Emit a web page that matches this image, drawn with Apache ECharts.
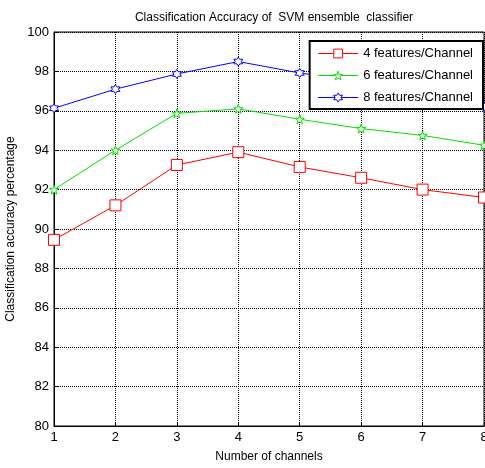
<!DOCTYPE html>
<html>
<head>
<meta charset="utf-8">
<script src="https://cdn.jsdelivr.net/npm/echarts@6/dist/echarts.min.js"></script>
<style>
  *{margin:0;padding:0;}
  body{background:#fff;}
</style>
</head>
<body>
<div id="chart" style="width:485px;height:468px;"></div>
<script>
// data
var channels = [1, 2, 3, 4, 5, 6, 7, 8];
var feat4 = [89.45, 91.2, 93.25, 93.9, 93.15, 92.6, 92.0, 91.6];
var feat6 = [92.0, 94.0, 95.87, 96.1, 95.57, 95.1, 94.75, 94.25];
var feat8 = [96.13, 97.1, 97.87, 98.5, 97.92, 97.5, 96.8, 96.2];
var seriesNames = ['4 features/Channel', '6 features/Channel', '8 features/Channel'];

var starPath = 'path://M0,-10 L2.35,-3.24 L9.51,-3.09 L3.8,1.24 L5.88,8.09 L0,4 L-5.88,8.09 L-3.8,1.24 L-9.51,-3.09 L-2.35,-3.24 Z';
var hexPath = 'path://M0,-10 L2.89,-5 L8.66,-5 L5.77,0 L8.66,5 L2.89,5 L0,10 L-2.89,5 L-8.66,5 L-5.77,0 L-8.66,-5 L-2.89,-5 Z';

function pairs(vals) {
  return channels.map(function (c, i) { return [c, vals[i]]; });
}

function makeSeries(name, vals, color, symbol, size) {
  return {
    name: name,
    type: 'line',
    data: pairs(vals),
    color: color,
    symbol: symbol,
    symbolSize: size,
    lineStyle: { color: color, width: 1 },
    itemStyle: { color: '#fff', borderColor: color, borderWidth: 1 },
    emphasis: { disabled: true },
    z: 3
  };
}

var myChart = echarts.init(document.getElementById('chart'));
myChart.setOption({
  animation: false,
  textStyle: { fontFamily: 'Liberation Sans, Arial, sans-serif' },
  title: {
    text: 'Classification Accuracy of  SVM ensemble  classifier',
    left: 269,
    textAlign: 'center',
    top: 7,
    textStyle: { fontSize: 12, fontWeight: 'normal', color: '#000' }
  },
  grid: {
    left: 54, right: 1, top: 32, bottom: 42,
    containLabel: false,
    outerBoundsMode: 'none',
    show: true, borderColor: '#000', borderWidth: 1
  },
  legend: {
    orient: 'vertical',
    right: 2,
    top: 41,
    backgroundColor: '#fff',
    borderColor: '#000',
    borderWidth: 2,
    borderRadius: 0,
    padding: [6, 10, 5, 8],
    itemGap: 9,
    itemWidth: 40,
    itemHeight: 11,
    lineStyle: { width: 1 },
    itemStyle: { borderWidth: 1 },
    textStyle: { fontSize: 13, color: '#000' },
    data: seriesNames
  },
  xAxis: {
    type: 'value',
    min: 1, max: 8, interval: 1,
    name: 'Number of channels',
    nameLocation: 'middle',
    nameGap: 25,
    nameTextStyle: { fontSize: 12, color: '#000' },
    axisLine: { show: true, lineStyle: { color: '#000', width: 1 } },
    axisTick: { show: true, inside: true, length: 4, lineStyle: { color: '#000' } },
    axisLabel: { fontSize: 13, color: '#000', margin: 5, showMaxLabel: true },
    splitLine: { show: true, lineStyle: { color: '#000', type: [1, 1], width: 1 } }
  },
  yAxis: {
    type: 'value',
    min: 80, max: 100, interval: 2,
    name: 'Classification accuracy percentage',
    nameLocation: 'middle',
    nameGap: 31,
    nameTextStyle: { fontSize: 12, color: '#000' },
    axisLine: { show: true, lineStyle: { color: '#000', width: 1 } },
    axisTick: { show: true, inside: true, length: 4, lineStyle: { color: '#000' } },
    axisLabel: { fontSize: 13, color: '#000', margin: 5 },
    splitLine: { show: true, lineStyle: { color: '#000', type: [1, 1], width: 1 } }
  },
  series: [
    makeSeries(seriesNames[0], feat4, '#ff0000', 'rect', 11),
    makeSeries(seriesNames[1], feat6, '#00e000', starPath, 9),
    makeSeries(seriesNames[2], feat8, '#0000ff', hexPath, 9)
  ]
});
</script>
</body>
</html>
